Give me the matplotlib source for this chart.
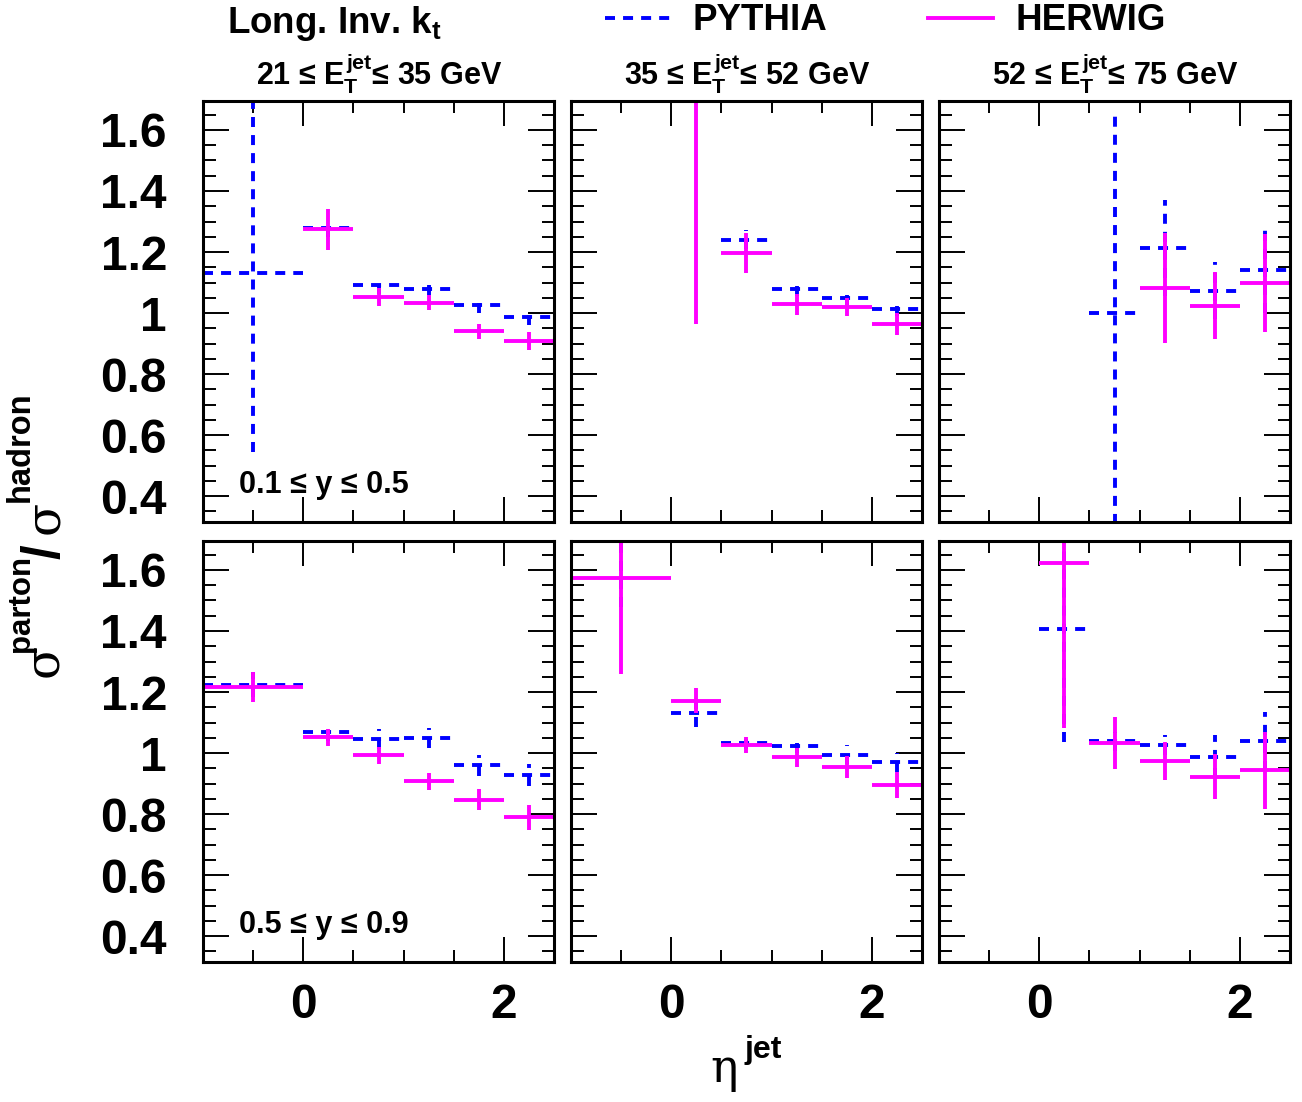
"""Parton-to-hadron correction factors vs eta_jet, PYTHIA vs HERWIG, in 3 E_T bins x 2 y ranges."""
import numpy as np
import matplotlib
matplotlib.use("Agg")
import matplotlib.pyplot as plt
from matplotlib.lines import Line2D
from matplotlib.ticker import FixedLocator, MultipleLocator

plt.rcParams.update({
    "font.family": "Liberation Sans", "font.weight": "bold",
    "mathtext.fontset": "custom", "mathtext.rm": "Liberation Sans:bold",
    "mathtext.bf": "Liberation Sans:bold", "mathtext.it": "Liberation Sans:bold",
    "lines.scale_dashes": False,
})

# eta_jet bins
ETA_LO = [-1.0, 0.0, 0.5, 1.0, 1.5, 2.0]
ETA_HI = [0.0, 0.5, 1.0, 1.5, 2.0, 2.5]
nan = np.nan

ET_BINS = ["21 ≤ $E_T^{jet}$≤ 35 GeV", "35 ≤ $E_T^{jet}$≤ 52 GeV", "52 ≤ $E_T^{jet}$≤ 75 GeV"]
Y_RANGES = ["0.1 ≤ y ≤ 0.5", "0.5 ≤ y ≤ 0.9"]

# ---- 0.1 < y < 0.5 ----
PYT_A1 = [1.131, 1.279, 1.091, 1.080, 1.026, 0.988]
PYT_A1_LO = [0.585, 0.03, 0.027, 0.022, 0.025, 0.027]
PYT_A1_HI = [0.65, 0.03, 0.027, 0.022, 0.025, 0.027]
HER_A1 = [nan, 1.274, 1.052, 1.034, 0.940, 0.908]
HER_A1_LO = [nan, 0.068, 0.030, 0.025, 0.025, 0.030]
HER_A1_HI = [nan, 0.068, 0.030, 0.025, 0.025, 0.030]

PYT_A2 = [nan, nan, 1.240, 1.080, 1.048, 1.014]
PYT_A2_LO = [nan, nan, 0.031, 0.025, 0.022, 0.023]
PYT_A2_HI = [nan, nan, 0.031, 0.025, 0.022, 0.023]
HER_A2 = [nan, 1.90, 1.196, 1.028, 1.019, 0.963]
HER_A2_LO = [nan, 0.935, 0.065, 0.033, 0.030, 0.036]
HER_A2_HI = [nan, 0.90, 0.065, 0.033, 0.030, 0.036]

PYT_A3 = [nan, nan, 1.000, 1.214, 1.073, 1.140]
PYT_A3_LO = [nan, nan, 0.75, 0.158, 0.094, 0.14]
PYT_A3_HI = [nan, nan, 0.659, 0.158, 0.094, 0.14]
HER_A3 = [nan, nan, nan, 1.082, 1.024, 1.099]
HER_A3_LO = [nan, nan, nan, 0.18, 0.11, 0.16]
HER_A3_HI = [nan, nan, nan, 0.18, 0.11, 0.16]

# ---- 0.5 < y < 0.9 ----
PYT_B1 = [1.224, 1.068, 1.046, 1.049, 0.960, 0.928]
PYT_B1_LO = [0.04, 0.028, 0.032, 0.034, 0.035, 0.036]
PYT_B1_HI = [0.04, 0.028, 0.032, 0.034, 0.035, 0.036]
HER_B1 = [1.216, 1.052, 0.993, 0.907, 0.847, 0.789]
HER_B1_LO = [0.048, 0.028, 0.028, 0.028, 0.035, 0.04]
HER_B1_HI = [0.048, 0.028, 0.028, 0.028, 0.035, 0.04]

PYT_B2 = [1.85, 1.131, 1.033, 1.024, 0.995, 0.969]
PYT_B2_LO = [0.37, 0.045, 0.02, 0.024, 0.03, 0.03]
PYT_B2_HI = [0.37, 0.045, 0.02, 0.024, 0.03, 0.03]
HER_B2 = [1.574, 1.172, 1.027, 0.986, 0.954, 0.896]
HER_B2_LO = [0.314, 0.04, 0.027, 0.031, 0.036, 0.042]
HER_B2_HI = [0.314, 0.04, 0.027, 0.031, 0.036, 0.042]

PYT_B3 = [nan, 1.407, 1.038, 1.027, 0.988, 1.038]
PYT_B3_LO = [nan, 0.371, 0.03, 0.033, 0.07, 0.096]
PYT_B3_HI = [nan, 0.371, 0.03, 0.033, 0.07, 0.096]
HER_B3 = [nan, 1.623, 1.033, 0.973, 0.923, 0.943]
HER_B3_LO = [nan, 0.54, 0.084, 0.063, 0.074, 0.125]
HER_B3_HI = [nan, 0.54, 0.084, 0.063, 0.074, 0.125]

PANELS = [
    [(PYT_A1, PYT_A1_LO, PYT_A1_HI, HER_A1, HER_A1_LO, HER_A1_HI),
     (PYT_A2, PYT_A2_LO, PYT_A2_HI, HER_A2, HER_A2_LO, HER_A2_HI),
     (PYT_A3, PYT_A3_LO, PYT_A3_HI, HER_A3, HER_A3_LO, HER_A3_HI)],
    [(PYT_B1, PYT_B1_LO, PYT_B1_HI, HER_B1, HER_B1_LO, HER_B1_HI),
     (PYT_B2, PYT_B2_LO, PYT_B2_HI, HER_B2, HER_B2_LO, HER_B2_HI),
     (PYT_B3, PYT_B3_LO, PYT_B3_HI, HER_B3, HER_B3_LO, HER_B3_HI)],
]

BLUE, MAG = "#0000ff", "#ff00ff"
DASH = (0, (7.2, 5.8))
LW = 2.8
GREEK = "DejaVu Serif"

W, H = 1302, 1102
def fx(px): return px / W
def fy(py): return 1 - py / H

fig = plt.figure(figsize=(W / 100, H / 100), dpi=100)

COL_X = [203, 571, 939]
ROW_Y = [(101, 522), (541, 962)]
lo_e = np.array(ETA_LO); hi_e = np.array(ETA_HI)
ctr = (lo_e + hi_e) / 2


def draw(ax, vals, elo, ehi, color, ls):
    v = np.array(vals)
    ok = ~np.isnan(v)
    eb = ax.errorbar(ctr[ok], v[ok], xerr=[(ctr - lo_e)[ok], (hi_e - ctr)[ok]],
                     yerr=[np.array(elo)[ok], np.array(ehi)[ok]], fmt="none",
                     ecolor=color, elinewidth=LW, capsize=0)
    for lc in eb.lines[2]:
        lc.set_linestyle(ls)
        lc.set_capstyle("butt")


for r, (top, bot) in enumerate(ROW_Y):
    for c, x0 in enumerate(COL_X):
        ax = fig.add_axes([fx(x0), fy(bot), 351 / W, (bot - top) / H])
        py, pylo, pyhi, hw, hwlo, hwhi = PANELS[r][c]
        draw(ax, py, pylo, pyhi, BLUE, DASH)
        draw(ax, hw, hwlo, hwhi, MAG, "-")
        ax.set_xlim(-1.0, 2.5)
        ax.set_ylim(0.315, 1.695)
        ax.xaxis.set_major_locator(FixedLocator([0, 2]))
        ax.xaxis.set_minor_locator(MultipleLocator(0.5))
        ax.yaxis.set_major_locator(FixedLocator([0.4, 0.6, 0.8, 1.0, 1.2, 1.4, 1.6]))
        ax.yaxis.set_minor_locator(MultipleLocator(0.05))
        ax.tick_params(which="both", direction="in", top=True, right=True, width=1.4)
        ax.tick_params(axis="y", which="major", length=19, pad=26, labelsize=34.5)
        ax.tick_params(axis="y", which="minor", length=9)
        ax.tick_params(axis="x", which="major", length=18, pad=15, labelsize=34.5)
        ax.tick_params(axis="x", which="minor", length=8.5)
        ax.set_yticklabels(["0.4", "0.6", "0.8", "1", "1.2", "1.4", "1.6"])
        ax.set_xticklabels(["0", "2"])
        if c > 0:
            ax.tick_params(axis="y", labelleft=False)
        if r == 0:
            ax.tick_params(axis="x", labelbottom=False)
        for sp in ax.spines.values():
            sp.set_linewidth(2.2)
        if c == 0:
            ax.text(0.103, 0.07, Y_RANGES[r], transform=ax.transAxes,
                    fontsize=22, fontweight="bold", ha="left", va="baseline")
        if r == 0:
            fig.text(fx(x0 + 176), fy(85), ET_BINS[c], fontsize=22,
                     fontweight="bold", ha="center", va="baseline")

# header legend
fig.text(fx(227), fy(33), "Long. Inv. k$_t$", fontsize=26.5, fontweight="bold",
         ha="left", va="baseline")
handles = [Line2D([], [], color=BLUE, lw=LW, linestyle=DASH, dash_capstyle="butt"),
           Line2D([], [], color=MAG, lw=LW)]
fig.legend(handles, ["PYTHIA", "HERWIG"], loc="center left",
           bbox_to_anchor=(fx(605), fy(21)), ncol=2, frameon=False,
           prop={"size": 26.5, "weight": "bold"}, handlelength=1.77,
           handletextpad=0.62, columnspacing=2.72, borderpad=0, borderaxespad=0)

# x axis label
fig.text(fx(710), fy(1082), "η", fontsize=33, family=GREEK,
         fontweight="normal", ha="left", va="baseline")
fig.text(fx(744), fy(1058), "jet", fontsize=23, fontweight="bold",
         ha="left", va="baseline")

# y axis label, rotated pieces
def vtext(px, py, s, **kw):
    fig.text(fx(px), fy(py), s, rotation=90, rotation_mode="anchor",
             ha="left", va="baseline", **kw)

vtext(57, 677, "σ", fontsize=35, family=GREEK, fontweight="normal")
vtext(29, 652, "parton", fontsize=22.5, fontweight="bold")
vtext(59, 559, "/", fontsize=38, fontweight="bold")
vtext(58, 534, "σ", fontsize=35, family=GREEK, fontweight="normal")
vtext(29, 502, "hadron", fontsize=23.5, fontweight="bold")

fig.savefig("out.png", dpi=100)
